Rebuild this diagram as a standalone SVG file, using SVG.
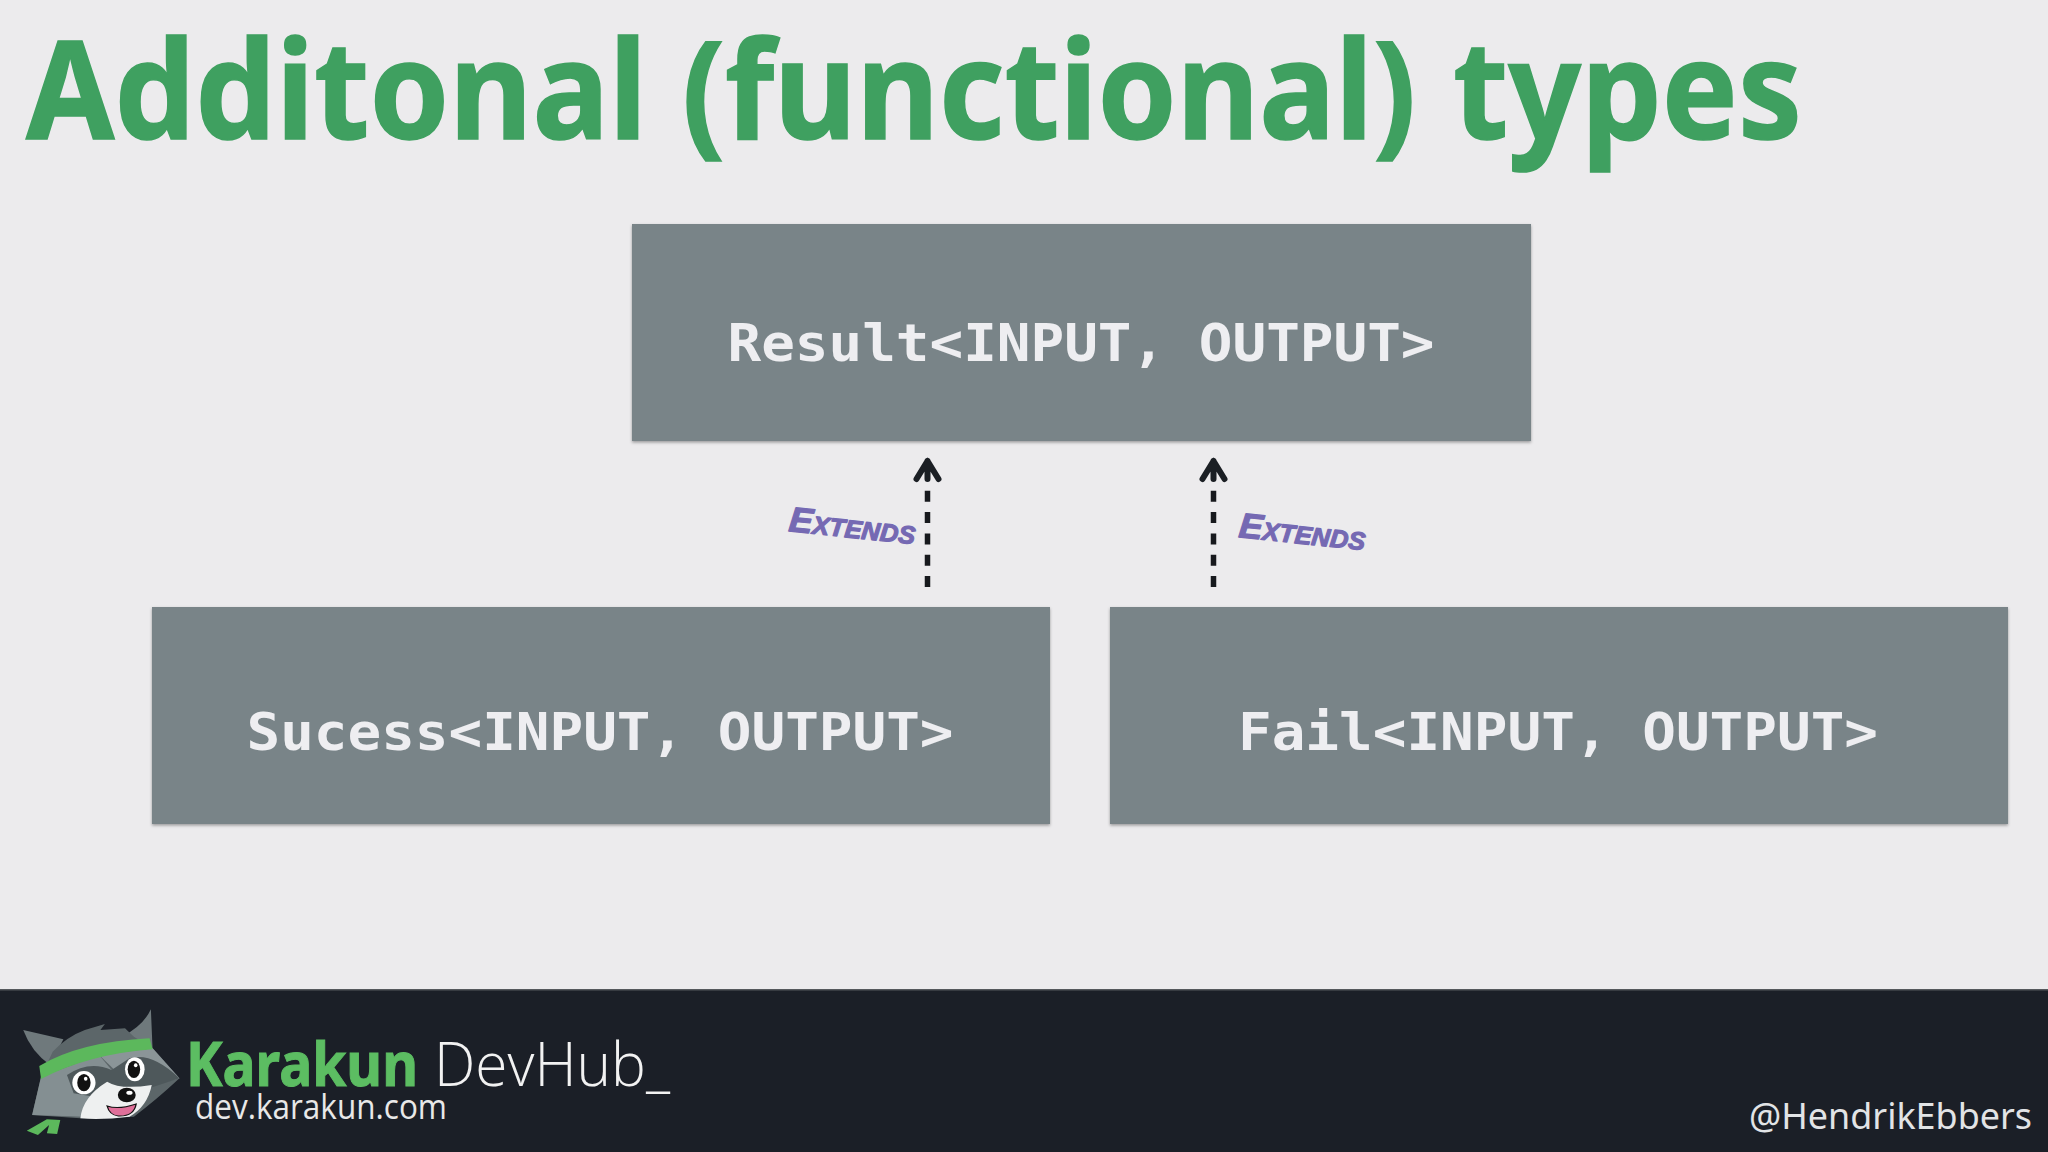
<svg xmlns="http://www.w3.org/2000/svg" width="2048" height="1152" viewBox="0 0 2048 1152">
<defs>
<marker id="head" markerUnits="userSpaceOnUse" markerWidth="30" markerHeight="30" refX="15" refY="3" orient="0" viewBox="0 0 30 30"><path d="M15 4 L4 22 M15 4 L26 22 M15 4 V22" fill="none" stroke="#1b1f24" stroke-width="6" stroke-linecap="round"/></marker>
<filter id="sh" x="-2%" y="-3%" width="104%" height="108%"><feDropShadow dx="0" dy="1.500" stdDeviation="1.500" flood-color="#000" flood-opacity="0.35"/></filter>
</defs>
<style>
.box{fill:#798488;filter:url(#sh)}
.code{font-family:"DejaVu Sans Mono","Liberation Mono",monospace;font-weight:700;font-size:51px;fill:#eeeef1;text-anchor:middle}
.ext{font-family:"Liberation Sans",sans-serif;font-weight:700;font-style:italic;font-variant:small-caps;font-size:35px;fill:#7569b3;stroke:#7569b3;stroke-width:1.200;stroke-linejoin:round}
.dash{fill:none;stroke:#17191d;stroke-width:5.500;stroke-dasharray:11 10.300}
</style>
<rect width="2048" height="1152" fill="#ecebed"/>
<text y="139" font-family="'Noto Sans',sans-serif" font-weight="700" font-size="137" fill="#3fa060" stroke="#3fa060" stroke-width="1.500"><tspan x="26" textLength="621" lengthAdjust="spacingAndGlyphs">Additonal</tspan> <tspan x="682" textLength="734" lengthAdjust="spacingAndGlyphs">(functional)</tspan> <tspan x="1453" textLength="349" lengthAdjust="spacingAndGlyphs">types</tspan></text>
<g id="node-result"><rect class="box" x="632" y="224" width="899" height="217"/><text class="code" x="1081" y="361" textLength="707" lengthAdjust="spacingAndGlyphs">Result&lt;INPUT, OUTPUT&gt;</text></g>
<g id="node-success"><rect class="box" x="152" y="607" width="898" height="217"/><text class="code" x="600" y="750" textLength="707" lengthAdjust="spacingAndGlyphs">Sucess&lt;INPUT, OUTPUT&gt;</text></g>
<g id="node-fail"><rect class="box" x="1110" y="607" width="898" height="217"/><text class="code" x="1558" y="750" textLength="640" lengthAdjust="spacingAndGlyphs">Fail&lt;INPUT, OUTPUT&gt;</text></g>
<g id="connectors">
<path d="M927.500 587 V490" class="dash"/><path d="M927.500 482 V460" fill="none" stroke="none" marker-end="url(#head)"/>
<path d="M1213.500 587 V490" class="dash"/><path d="M1213.500 482 V460" fill="none" stroke="none" marker-end="url(#head)"/>
</g>
<text class="ext" transform="translate(788 531) rotate(6)" textLength="127" lengthAdjust="spacingAndGlyphs">Extends</text>
<text class="ext" transform="translate(1238 537) rotate(6)" textLength="127" lengthAdjust="spacingAndGlyphs">Extends</text>
<g id="footer">
<rect y="990" width="2048" height="162" fill="#1b1f27"/>
<rect y="989" width="2048" height="1.500" fill="#55585c"/>
<g transform="translate(0 980) scale(0.4464 0.3333)">
<path d="M52 150 L142 178 L112 255 Q70 215 52 150Z" fill="#6f797c"/>
<path d="M338 88 L342 215 L276 168 Q322 135 338 88Z" fill="#6f797c"/>
<path d="M118 215 Q150 170 190 150 L235 132 L225 150 L280 145 L300 170 L342 205 L402 295 Q350 360 300 410 L180 415 L72 405 L92 290Z" fill="#5c6669"/>
<path d="M92 290 L222 225 L250 270 L190 410 L72 405Z" fill="#848f92"/>
<path d="M222 225 L342 205 L402 295 L330 320 L280 300Z" fill="#8b9598"/>
<path d="M150 285 Q200 240 250 270 L290 235 Q340 215 402 295 L300 340 L210 350 L165 340Z" fill="#4e585b"/>
<path d="M180 415 Q185 350 240 305 Q270 330 340 315 Q330 380 290 410 Q230 420 180 415Z" fill="#eef0f0"/>
<path d="M88 258 Q180 185 335 175 L342 208 Q200 222 92 297Z" fill="#5cb85c"/>
<path d="M60 452 L105 418 L135 420 L128 462 L105 460 L110 435 L85 465Z" fill="#5cb85c"/>
<ellipse cx="188" cy="308" rx="26" ry="35" fill="#fff"/><ellipse cx="188" cy="308" rx="15" ry="26" fill="#111"/><ellipse cx="192" cy="296" rx="4" ry="6" fill="#fff"/>
<ellipse cx="302" cy="268" rx="22" ry="36" fill="#fff"/><ellipse cx="300" cy="268" rx="14" ry="26" fill="#111"/><ellipse cx="304" cy="256" rx="4" ry="6" fill="#fff"/>
<ellipse cx="284" cy="345" rx="20" ry="22" fill="#111"/><ellipse cx="290" cy="338" rx="7" ry="6" fill="#fff"/>
<path d="M240 378 Q265 390 305 372 Q300 410 265 408 Q245 405 240 378Z" fill="#e0709a" stroke="#111" stroke-width="3"/>
</g>
<text x="186" y="1086" font-family="'Noto Sans',sans-serif" font-weight="700" font-size="61" fill="#5cbd62" stroke="#5cbd62" stroke-width="1" textLength="232" lengthAdjust="spacingAndGlyphs">Karakun</text>
<text x="434" y="1086" font-family="'Open Sans',sans-serif" font-weight="300" font-size="61" fill="#f2f2f2" textLength="236" lengthAdjust="spacingAndGlyphs">DevHub_</text>
<text x="195" y="1119" font-family="'Open Sans',sans-serif" font-weight="400" font-size="34" fill="#e8e8e8" textLength="252" lengthAdjust="spacingAndGlyphs">dev.karakun.com</text>
<text x="1749" y="1129" font-family="'Noto Sans',sans-serif" font-weight="400" font-size="37" fill="#e2e4e6" textLength="283" lengthAdjust="spacingAndGlyphs">@HendrikEbbers</text>
</g>
</svg>
